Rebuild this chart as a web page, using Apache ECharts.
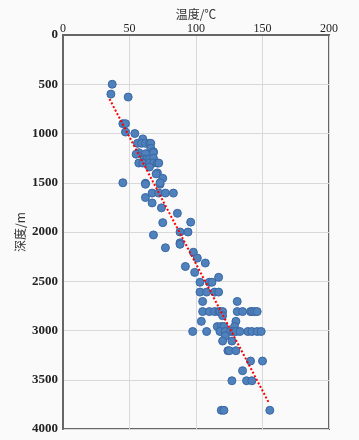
<!DOCTYPE html>
<html><head><meta charset="utf-8">
<script src="https://cdn.jsdelivr.net/npm/echarts@6/dist/echarts.min.js"></script>
<style>html,body{margin:0;padding:0;background:#fafafa}#c{width:359px;height:440px}</style>
</head><body><div id="c"></div>
<script>
const xTicks = [0, 50, 100, 150, 200];
const yTicks = [0, 500, 1000, 1500, 2000, 2500, 3000, 3500, 4000];
const temperature = [
 37,36,49,45,47,47,54,60,
 56,59,62,65,66,
 66,68,68,57,55,62,
 61,63,65,68,
 57,60,65,68,71,72,
 65,71,70,75,
 45,62,62,73,73,
 67,72,77,83,
 62,67,74,86,75,96,
 88,94,68,88,88,77,98,101,
 107,92,99,117,
 103,110,112,
 103,108,114,117,
 131,105,
 105,110,114,117,118,120,131,135,141,142,144,146,
 120,104,130,
 116,119,121,129,
 97.5,108,118,122,126,128,130,133,139,142,146,149,
 122,120,127,
 124,125,130,
 141,150,135,
 127,138,142,
 119,121,155.5
];
const depth = [
 500,600,630,900,900,985,1000,1055,
 1100,1100,1100,1100,1100,
 1150,1185,1195,1195,1210,1205,
 1260,1260,1260,1250,
 1300,1300,1300,1300,1300,1300,
 1340,1400,1410,1455,
 1500,1505,1515,1515,1500,
 1605,1605,1605,1605,
 1650,1705,1755,1810,1905,1900,
 2000,2000,2030,2110,2125,2160,2205,2265,
 2315,2350,2410,2460,
 2510,2510,2510,
 2610,2610,2610,2610,
 2705,2705,
 2808,2808,2808,2808,2808,2808,2808,2808,2808,2808,2808,2808,
 2850,2907,2907,
 2960,2960,2960,2960,
 3010,3010,3010,3010,3010,3010,3010,3010,3010,3010,3010,3010,
 3055,3107,3107,
 3205,3205,3205,
 3310,3310,3408,
 3510,3510,3510,
 3810,3810,3810
];
const trendT = [35, 155];
const trendD = [650, 3740];

const pts = temperature.map((t, i) => [t, depth[i]]);
const trend = trendT.map((t, i) => [t, trendD[i]]);
const serif = '"Liberation Serif","DejaVu Serif",serif';
const cjk = '"Noto Sans CJK SC","Liberation Serif",serif';

const chart = echarts.init(document.getElementById('c'));
chart.setOption({
  backgroundColor: '#fafafa',
  animation: false,
  grid: {left: 63, top: 35, right: 30, bottom: 11, containLabel: false, outerBoundsMode: 'none',
         show: true, borderColor: '#666', borderWidth: 2, backgroundColor: 'transparent'},
  xAxis: {
    type: 'value', position: 'top', min: xTicks[0], max: xTicks[xTicks.length-1], interval: 50,
    name: '温度/℃', nameLocation: 'middle', nameGap: 15, nameMoveOverlap: false,
    nameTextStyle: {fontFamily: cjk, fontSize: 12, color: '#333'},
    axisLine: {show: true, lineStyle: {color: '#666', width: 2}},
    axisTick: {show: false},
    axisLabel: {margin: 0, fontFamily: serif, fontSize: 12, color: '#222', formatter: v => String(v)},
    splitLine: {show: true, lineStyle: {color: '#d9d9d9', width: 1}}
  },
  yAxis: {
    type: 'value', inverse: true, min: yTicks[0], max: yTicks[yTicks.length-1], interval: 500,
    name: '深度/m', nameLocation: 'middle', nameGap: 37, nameRotate: 90, nameMoveOverlap: false,
    nameTextStyle: {fontFamily: cjk, fontSize: 12, color: '#333'},
    axisLine: {show: true, lineStyle: {color: '#666', width: 2}},
    axisTick: {show: false},
    axisLabel: {margin: 5, fontFamily: serif, fontSize: 13, fontWeight: 'bold', color: '#222', formatter: v => String(v)},
    splitLine: {show: true, lineStyle: {color: '#d9d9d9', width: 1}}
  },
  series: [
    {type: 'line', data: trend, symbol: 'none', z: 3,
     lineStyle: {color: '#ff0000', width: 2, type: [2, 2]}},
    {type: 'scatter', data: pts, symbolSize: 8, z: 2,
     itemStyle: {color: '#4f81bd', borderColor: '#3a68a3', borderWidth: 1, opacity: 1}}
  ]
});
</script></body></html>
